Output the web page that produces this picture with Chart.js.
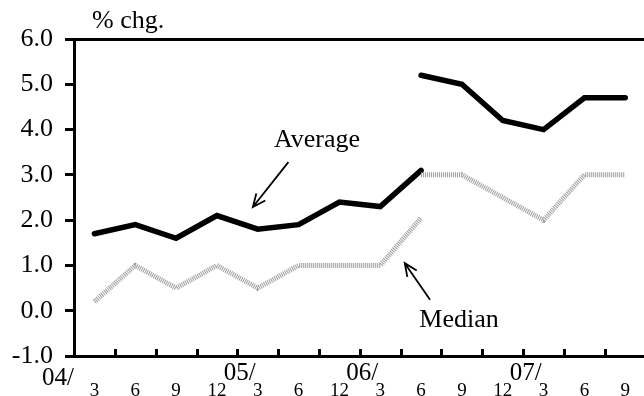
<!DOCTYPE html>
<html>
<head>
<meta charset="utf-8">
<script src="https://cdn.jsdelivr.net/npm/chart.js@4/dist/chart.umd.min.js"></script>
<style>
  html, body { margin: 0; padding: 0; background: #fff; overflow: hidden; width: 644px; height: 396px; }
  #wrap { position: absolute; left: 0; top: 0; width: 654px; height: 396px; }
  canvas { display: block; }
</style>
</head>
<body>
<div id="wrap"><canvas id="c" width="654" height="396"></canvas></div>
<script>
// ---- data ----
const monthLabels = ['3','6','9','12','3','6','12','3','6','9','12','3','6','9'];
const yearLabels = ['04/','05/','06/','07/'];
const yearIndex = [0, 4, 7, 11];
const averageA = [1.7, 1.9, 1.6, 2.1, 1.8, 1.9, 2.4, 2.3, 3.1, null, null, null, null, null];
const averageB = [null, null, null, null, null, null, null, null, 5.2, 5.0, 4.2, 4.0, 4.7, 4.7];
const medianA  = [0.2, 1.0, 0.5, 1.0, 0.5, 1.0, 1.0, 1.0, 2.05, null, null, null, null, null];
const medianB  = [null, null, null, null, null, null, null, null, 3.0, 3.0, 2.5, 2.0, 3.0, 3.0];
const yMin = -1, yMax = 6, yStep = 1;
const unitLabel = '% chg.';
// annotations in (category index, value) coordinates
const notes = [
  { text: 'Average', x: 5.45, y: 3.61, ax1: 4.75, ay1: 3.28, ax2: 3.88, ay2: 2.29 },
  { text: 'Median',  x: 8.93, y: -0.36, ax1: 8.22, ay1: 0.24, ax2: 7.60, ay2: 1.05 }
];

const FONT = "'Liberation Serif', 'Times New Roman', serif";
Chart.defaults.font.family = FONT;
Chart.defaults.color = '#000';

function arrow(ctx, x1, y1, x2, y2) {
  const ang = Math.atan2(y2 - y1, x2 - x1);
  const L = 14, a = 0.42;
  ctx.beginPath();
  ctx.moveTo(x1, y1); ctx.lineTo(x2, y2);
  ctx.moveTo(x2 - L * Math.cos(ang - a), y2 - L * Math.sin(ang - a));
  ctx.lineTo(x2, y2);
  ctx.lineTo(x2 - L * Math.cos(ang + a), y2 - L * Math.sin(ang + a));
  ctx.stroke();
}

const decor = {
  id: 'decor',
  afterDraw(chart) {
    const { ctx, chartArea: ca, scales: { x, y } } = chart;
    const n = monthLabels.length;
    const w = (ca.right - ca.left) / n;
    ctx.save();
    // inward x tick marks at category boundaries
    ctx.strokeStyle = '#000';
    ctx.lineWidth = 3;
    ctx.beginPath();
    for (let i = 1; i < n; i++) {
      const px = Math.round(ca.left + w * i) + 0.5;
      ctx.moveTo(px, ca.bottom);
      ctx.lineTo(px, ca.bottom - 7);
    }
    ctx.stroke();
    // year labels
    ctx.fillStyle = '#000';
    ctx.font = '25px ' + FONT;
    ctx.textAlign = 'right';
    ctx.textBaseline = 'alphabetic';
    yearLabels.forEach((t, k) => {
      const i = yearIndex[k];
      if (k === 0) {
        ctx.fillText(t, ca.left, ca.bottom + 29);
      } else {
        ctx.fillText(t, x.getPixelForValue(i) - 2, ca.bottom + 24);
      }
    });
    // unit label
    ctx.font = '26px ' + FONT;
    ctx.textAlign = 'left';
    ctx.fillText(unitLabel, ca.left + 18, ca.top - 11);
    // annotations
    ctx.textAlign = 'center';
    ctx.lineWidth = 1.8;
    notes.forEach(nt => {
      ctx.fillText(nt.text, x.getPixelForValue(nt.x), y.getPixelForValue(nt.y));
      arrow(ctx, x.getPixelForValue(nt.ax1), y.getPixelForValue(nt.ay1),
                 x.getPixelForValue(nt.ax2), y.getPixelForValue(nt.ay2));
    });
    ctx.restore();
  }
};

const avgStyle = { borderColor: '#000', borderWidth: 5.5, pointRadius: 0, tension: 0, spanGaps: false, borderCapStyle: 'round', borderJoinStyle: 'miter', fill: false };
const medStyle = { borderColor: '#9c9c9c', borderWidth: 5, pointRadius: 0, tension: 0, spanGaps: false, borderDash: [1, 1], borderCapStyle: 'butt', fill: false };

new Chart(document.getElementById('c'), {
  type: 'line',
  data: {
    labels: monthLabels,
    datasets: [
      Object.assign({ label: 'Median', data: medianA }, medStyle),
      Object.assign({ label: 'Median', data: medianB }, medStyle),
      Object.assign({ label: 'Average', data: averageA }, avgStyle),
      Object.assign({ label: 'Average', data: averageB }, avgStyle)
    ]
  },
  options: {
    responsive: false,
    animation: false,
    devicePixelRatio: 1,
    layout: { padding: { top: 39, right: 0, left: 0, bottom: 0 } },
    plugins: { legend: { display: false }, tooltip: { enabled: false } },
    scales: {
      x: {
        type: 'category',
        offset: true,
        grid: { display: true, drawOnChartArea: false, drawTicks: false, offset: true },
        border: { display: true, color: '#000', width: 3 },
        ticks: { font: { size: 19 }, color: '#000', padding: 24, maxRotation: 0, autoSkip: false },
        afterFit(s) { s.height = 40; }
      },
      y: {
        min: yMin, max: yMax,
        ticks: { stepSize: yStep, font: { size: 26 }, color: '#000', padding: 12,
                 callback: v => Number(v).toFixed(1) },
        grid: {
          drawOnChartArea: true,
          color: c => (c.tick && c.tick.value === yMax) ? '#000' : 'rgba(0,0,0,0)',
          lineWidth: 3,
          tickLength: 9, tickColor: '#000', tickWidth: 3
        },
        border: { display: true, color: '#000', width: 3 },
        afterFit(s) { s.width = 74; }
      }
    }
  },
  plugins: [decor]
});
</script>
</body>
</html>
